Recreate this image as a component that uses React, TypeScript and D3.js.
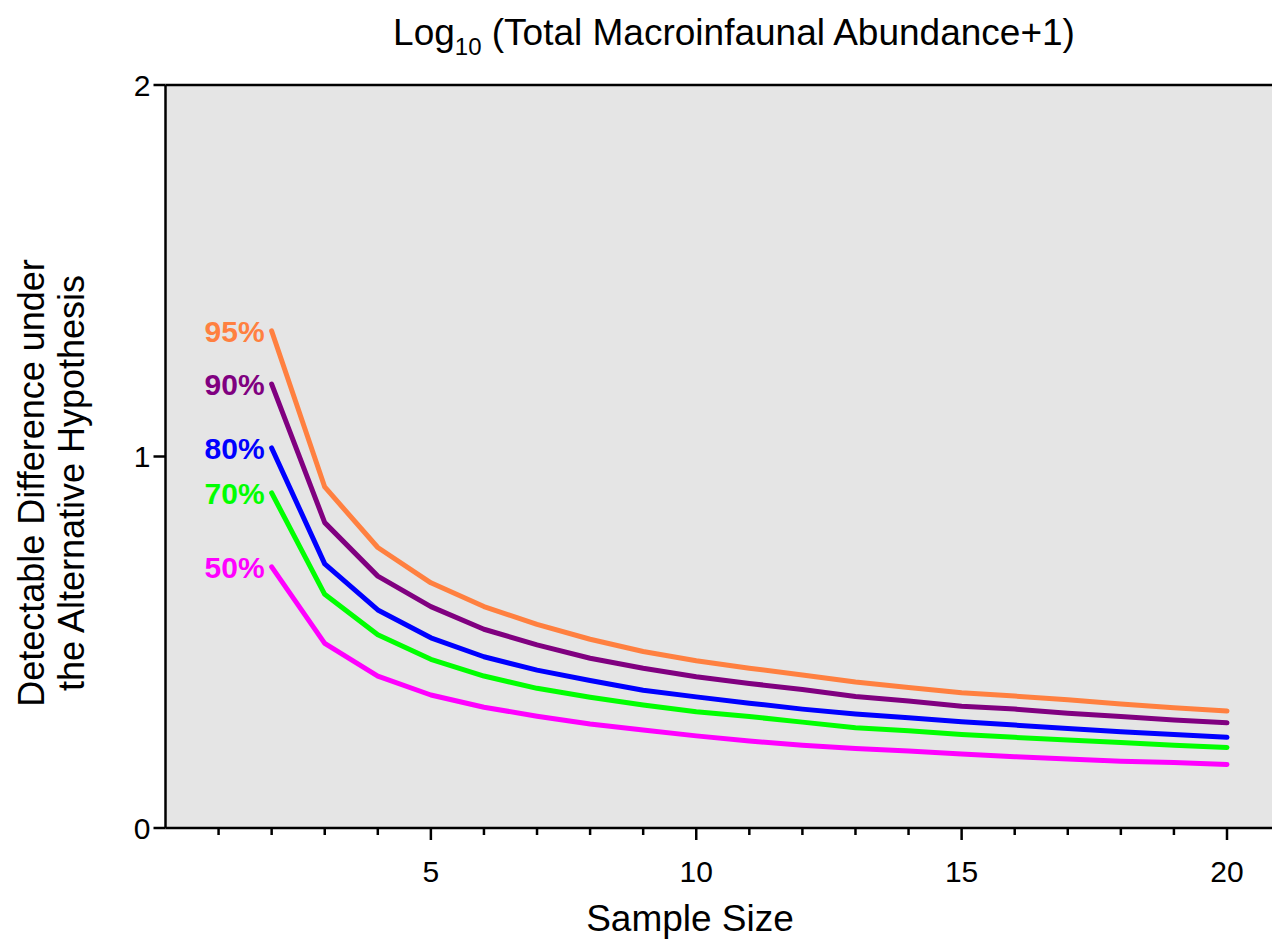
import React from "react";
import * as d3 from "d3";

const sampleSizes = [2, 3, 4, 5, 6, 7, 8, 9, 10, 11, 12, 13, 14, 15, 16, 17, 18, 19, 20];
const power95 = [1.338, 0.918, 0.755, 0.660, 0.596, 0.548, 0.508, 0.475, 0.450, 0.430, 0.412, 0.393, 0.378, 0.364, 0.355, 0.345, 0.334, 0.324, 0.315];
const power90 = [1.195, 0.822, 0.678, 0.596, 0.535, 0.493, 0.457, 0.430, 0.407, 0.389, 0.373, 0.354, 0.342, 0.328, 0.320, 0.309, 0.300, 0.291, 0.283];
const power80 = [1.023, 0.711, 0.587, 0.512, 0.461, 0.425, 0.397, 0.371, 0.353, 0.336, 0.320, 0.307, 0.297, 0.286, 0.277, 0.268, 0.259, 0.252, 0.244];
const power70 = [0.902, 0.629, 0.520, 0.454, 0.409, 0.376, 0.352, 0.331, 0.313, 0.300, 0.285, 0.270, 0.262, 0.252, 0.244, 0.237, 0.230, 0.223, 0.217];
const power50 = [0.703, 0.497, 0.409, 0.358, 0.325, 0.301, 0.280, 0.264, 0.248, 0.234, 0.223, 0.214, 0.207, 0.199, 0.192, 0.186, 0.180, 0.176, 0.171];

const seriesLabels = ["95%", "90%", "80%", "70%", "50%"];
const seriesColors = ["#FF8040", "#800080", "#0000FF", "#00FF00", "#FF00FF"];
const seriesValues = [power95, power90, power80, power70, power50];

const yTicks = [0, 1, 2];
const xMajorTicks = [5, 10, 15, 20];
const xMinorTicks = d3.range(1, 21).filter((v) => v % 5 !== 0);

const W = 1272;
const H = 946;
const FONT = "'Liberation Sans', Arial, sans-serif";

export default function App() {
  const x = d3.scaleLinear().domain([0, 20]).range([165.5, 1227]);
  const y = d3.scaleLinear().domain([0, 2]).range([828, 85]);
  const line = d3
    .line<number>()
    .x((_, i) => x(sampleSizes[i]))
    .y((d) => y(d));

  const left = x(0);
  const bottom = y(0);
  const top = y(2);

  return (
    <svg
      width={W}
      height={H}
      style={{ position: "absolute", left: 0, top: 0, background: "#fff" }}
      fontFamily={FONT}
    >
      <rect x={left} y={top} width={W - left} height={bottom - top} fill="#e5e5e5" />

      {seriesValues.map((vals, si) => (
        <path
          key={si}
          d={line(vals) || ""}
          fill="none"
          stroke={seriesColors[si]}
          strokeWidth={5}
          strokeLinecap="round"
          strokeLinejoin="round"
        />
      ))}

      {seriesValues.map((vals, si) => (
        <text
          key={"l" + si}
          x={x(sampleSizes[0]) - 7}
          y={y(vals[0])}
          dy="0.36em"
          textAnchor="end"
          fontWeight="bold"
          fontSize={30}
          fill={seriesColors[si]}
        >
          {seriesLabels[si]}
        </text>
      ))}

      {/* top border */}
      <line x1={left} x2={W} y1={top} y2={top} stroke="#000" strokeWidth={2.5} />
      {/* left axis */}
      <line x1={left} x2={left} y1={top} y2={bottom} stroke="#000" strokeWidth={2.5} />
      {/* bottom axis */}
      <line x1={left} x2={W} y1={bottom} y2={bottom} stroke="#000" strokeWidth={2.5} />

      {yTicks.map((t) => (
        <g key={"yt" + t}>
          <line x1={left - 12} x2={left} y1={y(t)} y2={y(t)} stroke="#000" strokeWidth={2.5} />
          <text x={left - 15} y={y(t)} dy="0.36em" textAnchor="end" fontSize={30} fill="#000">
            {t}
          </text>
        </g>
      ))}

      {xMinorTicks.map((t) => (
        <line key={"xm" + t} x1={x(t)} x2={x(t)} y1={bottom} y2={bottom + 7} stroke="#000" strokeWidth={2.5} />
      ))}
      {xMajorTicks.map((t) => (
        <g key={"xt" + t}>
          <line x1={x(t)} x2={x(t)} y1={bottom} y2={bottom + 12} stroke="#000" strokeWidth={2.5} />
          <text x={x(t)} y={bottom + 54} textAnchor="middle" fontSize={30} fill="#000">
            {t}
          </text>
        </g>
      ))}

      <text x={734} y={45} textAnchor="middle" fontSize={37} fill="#000">
        Log
        <tspan fontSize={24} dy={10}>10</tspan>
        <tspan dy={-10}> (Total Macroinfaunal Abundance+1)</tspan>
      </text>

      <text x={690} y={931} textAnchor="middle" fontSize={37} fill="#000">
        Sample Size
      </text>

      <g transform="translate(44,483) rotate(-90)">
        <text x={0} y={0} textAnchor="middle" fontSize={36} fill="#000">
          Detectable Difference under
        </text>
        <text x={0} y={40} textAnchor="middle" fontSize={36} fill="#000">
          the Alternative Hypothesis
        </text>
      </g>
    </svg>
  );
}
